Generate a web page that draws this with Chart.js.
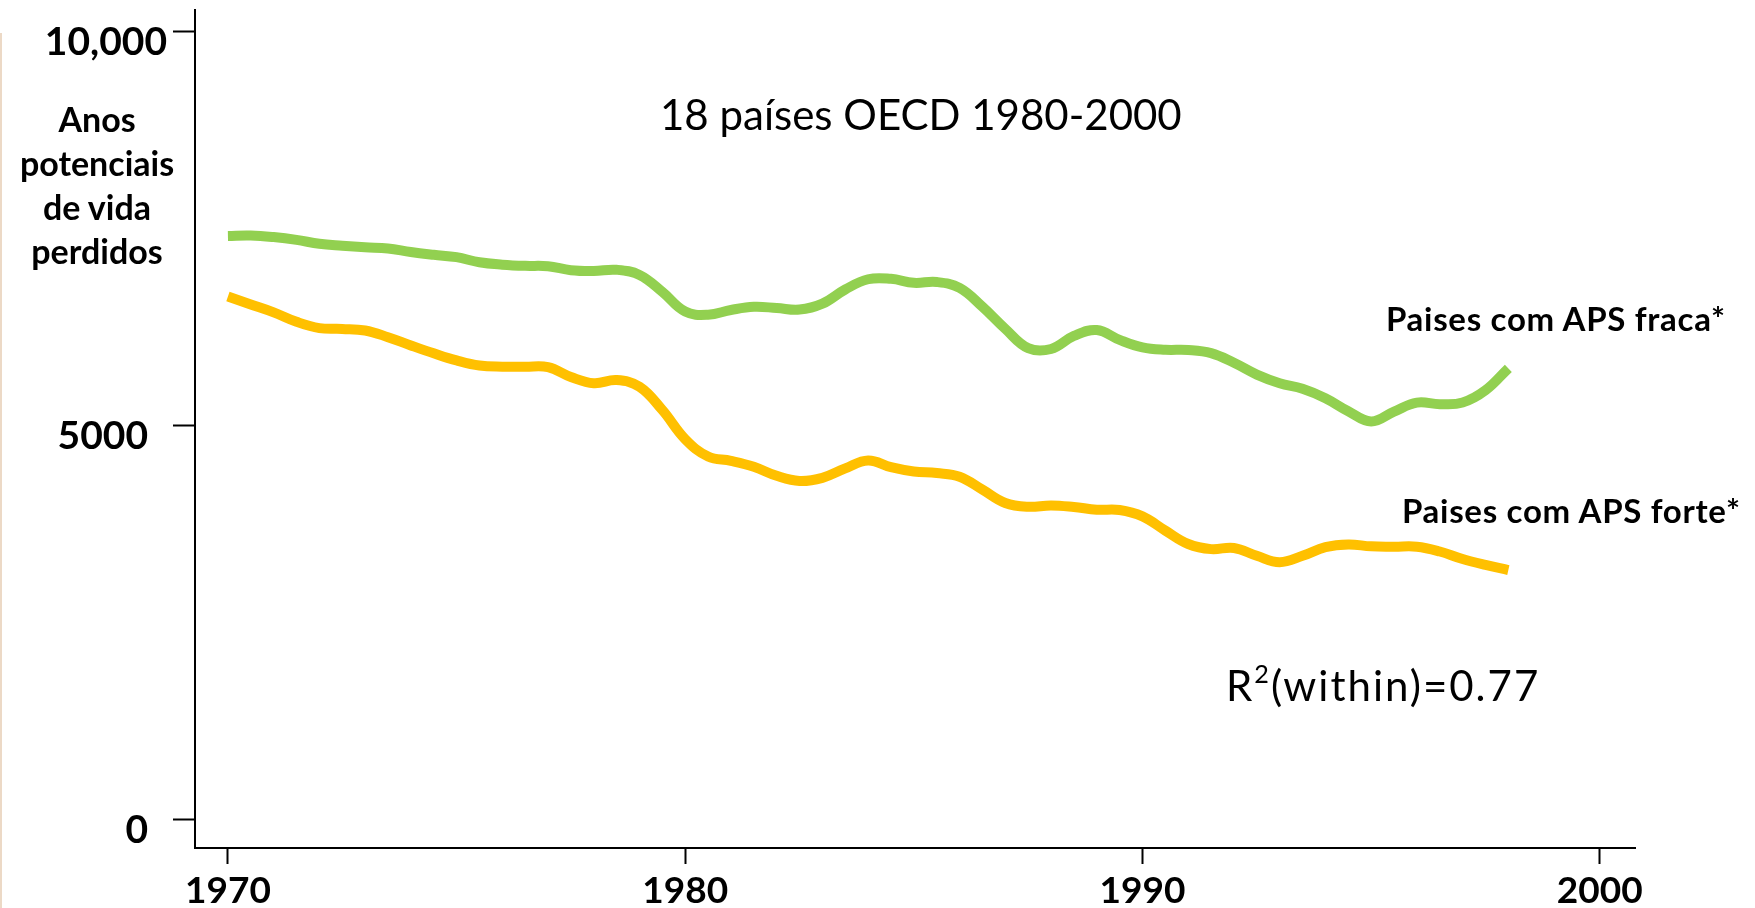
<!DOCTYPE html>
<html>
<head>
<meta charset="utf-8">
<title>Anos potenciais de vida perdidos</title>
<script src="https://cdn.jsdelivr.net/npm/chart.js@4.4.1/dist/chart.umd.min.js"></script>
<style>
  body { margin: 0; background: #fff; }
  #wrap { position: relative; width: 1755px; height: 908px; overflow: hidden; }
  .note { position: absolute; font-family: Lato, sans-serif; color: #000; white-space: nowrap; }
  .edge { position: absolute; left: 0; top: 33px; width: 2px; bottom: 0; background: #ecd9c6; }
  #yTitle { left: 15px; top: 97px; width: 164px; text-align: center; font-size: 34px; font-weight: bold; line-height: 44px; }
  #title { left: 660px; top: 89px; font-size: 42px; line-height: 1.2; }
  #rsq { left: 1226px; top: 660px; font-size: 42px; line-height: 1.2; letter-spacing: 2px; }
  #rsq sup { font-size: 0.6em; line-height: 0; position: relative; top: -0.12em; }
  #weak { left: 1386px; top: 299px; font-size: 33px; font-weight: bold; line-height: 1.2; letter-spacing: 0.7px; }
  #strong { left: 1402px; top: 491px; font-size: 33px; font-weight: bold; line-height: 1.2; letter-spacing: 0.7px; }
</style>
</head>
<body>
<div id="wrap">
  <canvas id="apsChart"></canvas>
  <div class="edge"></div>
  <div class="note" id="yTitle">Anos<br>potenciais<br>de vida<br>perdidos</div>
  <div class="note" id="title">18 países OECD 1980-2000</div>
  <div class="note" id="rsq">R<sup>2</sup>(within)=0.77</div>
  <div class="note" id="weak">Paises com APS fraca*</div>
  <div class="note" id="strong">Paises com APS forte*</div>
</div>
<script>
'use strict';

// data (half-year steps) -----------------------------------------------------
let years = [
  1970, 1970.5, 1971, 1971.5, 1972, 1972.5, 1973, 1973.5, 1974, 1974.5,
  1975, 1975.5, 1976, 1976.5, 1977, 1977.5, 1978, 1978.5, 1979, 1979.5,
  1980, 1980.5, 1981, 1981.5, 1982, 1982.5, 1983, 1983.5, 1984, 1984.5,
  1985, 1985.5, 1986, 1986.5, 1987, 1987.5, 1988, 1988.5, 1989, 1989.5,
  1990, 1990.5, 1991, 1991.5, 1992, 1992.5, 1993, 1993.5, 1994, 1994.5,
  1995, 1995.5, 1996, 1996.5, 1997, 1997.5, 1998
];

// Paises com APS fraca*
let weakAps = [
  7400, 7405, 7385, 7350, 7300, 7275, 7255, 7240, 7195, 7160,
  7130, 7065, 7035, 7020, 7015, 6965, 6955, 6970, 6905, 6690,
  6440, 6400, 6460, 6500, 6485, 6465, 6540, 6720, 6850, 6855,
  6805, 6815, 6740, 6500, 6220, 5975, 5965, 6130, 6205, 6080,
  5985, 5955, 5952, 5912, 5790, 5640, 5530, 5460, 5340, 5175,
  5045, 5170, 5285, 5265, 5285, 5440, 5720
];

// Paises com APS forte*
let strongAps = [
  6630, 6530, 6430, 6310, 6230, 6220, 6200, 6115, 6010, 5910,
  5820, 5755, 5740, 5740, 5735, 5610, 5530, 5570, 5486, 5190,
  4820, 4600, 4545, 4470, 4355, 4290, 4330, 4450, 4550, 4465,
  4410, 4390, 4344, 4180, 4010, 3962, 3980, 3960, 3925, 3921,
  3840, 3660, 3490, 3425, 3440, 3340, 3260, 3340, 3450, 3485,
  3460, 3456, 3456, 3395, 3300, 3225, 3160
];

let xTickValues = [1970, 1980, 1990, 2000];
let yTickValues = [0, 5000, 10000];
let yTickLabels = ['0', '5000', '10,000'];

// helpers ----------------------------------------------------------------------
function toPoints(values) {
  let points = [];
  for (let i = 0; i < years.length; i++) {
    points.push({ x: years[i], y: values[i] });
  }
  return points;
}

function yLabel(value) {
  let label = yTickLabels[yTickValues.indexOf(value)];
  // the small labels sit a bit further left in the original
  if (value !== 10000) {
    label = label + '  ';
  }
  // empty first line pushes the label below its tick
  return ['', label];
}

let chartObject = {
  type: 'line',
  data: {
    datasets: [{
      label: 'Paises com APS fraca*',
      data: toPoints(weakAps),
      borderColor: '#92d050',
      borderWidth: 10,
      pointRadius: 0,
      tension: 0.4,
      fill: false
    },
    {
      label: 'Paises com APS forte*',
      data: toPoints(strongAps),
      borderColor: '#ffc000',
      borderWidth: 10,
      pointRadius: 0,
      tension: 0.4,
      fill: false
    }]
  },
  options: {
    responsive: true,
    maintainAspectRatio: false,
    animation: false,
    layout: { padding: { top: 10, right: 120, bottom: 0, left: 0 } },
    plugins: {
      legend: { display: false },
      tooltip: { enabled: false }
    },
    scales: {
      x: {
        type: 'linear',
        min: 1969.28,
        max: 2000.77,
        afterBuildTicks: (scale) => {
          scale.ticks = xTickValues.map((v) => ({ value: v }));
        },
        afterFit: (scale) => {
          scale.height = 60;
          scale.paddingLeft = 0;
          scale.paddingRight = 0;
        },
        border: { display: true, color: '#000', width: 2 },
        grid: { drawOnChartArea: false, drawTicks: true, tickLength: 16, tickWidth: 2, tickColor: '#000' },
        ticks: {
          autoSkip: false,
          maxRotation: 0,
          padding: 5,
          color: '#000',
          font: { family: 'Lato', size: 37, weight: 'bold' },
          callback: (value) => String(value)
        }
      },
      y: {
        min: -368,
        max: 10267,
        afterBuildTicks: (scale) => {
          scale.ticks = yTickValues.map((v) => ({ value: v }));
        },
        afterFit: (scale) => {
          scale.width = 195;
          scale.paddingTop = 0;
          scale.paddingBottom = 0;
        },
        border: { display: true, color: '#000', width: 2 },
        grid: { drawOnChartArea: false, drawTicks: true, tickLength: 22, tickWidth: 2, tickColor: '#000' },
        ticks: {
          autoSkip: false,
          padding: 6,
          color: '#000',
          font: { family: 'Lato', size: 39, weight: 'bold', lineHeight: '22px' },
          callback: yLabel
        }
      }
    }
  }
};

let ctx = document.getElementById('apsChart').getContext('2d');
let apsChart = new Chart(ctx, chartObject);
</script>
</body>
</html>
